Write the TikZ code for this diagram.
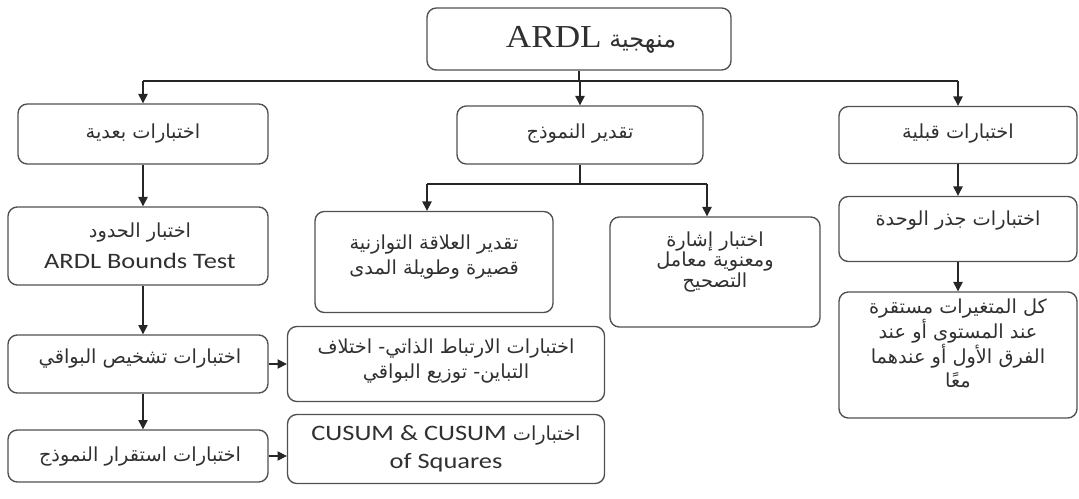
\documentclass[tikz,border=0pt]{standalone}
\usepackage{fontspec}
\usetikzlibrary{arrows.meta}
\TeXXeTstate=1
\newfontfamily\arabicfont[Script=Arabic]{DejaVu Sans}
\newfontfamily\calib[FakeStretch=1.2]{Carlito}
\newfontfamily\serifA[FakeStretch=1.1]{Liberation Serif}
\newcommand\rl[1]{\hbox{\beginR #1\endR}}
\definecolor{boxline}{HTML}{505050}
\definecolor{txt}{HTML}{303030}
\begin{document}
\begin{tikzpicture}[x=0.75pt,y=-0.75pt,
  bx/.style n args={2}{draw=boxline, line width=1pt, rounded corners=7pt,
     minimum width=#1*0.75pt, minimum height=#2*0.75pt, inner sep=0pt},
  lbl/.style={text=txt, align=center, inner sep=0pt, font=\arabicfont\fontsize{14.5}{18.5}\selectfont},
  arr/.style={draw=black!85, line width=0.9pt, -{Triangle[width=7pt,length=7pt]}},
  ln/.style={draw=black!85, line width=0.9pt}]
\useasboundingbox (0,0) rectangle (1079,499);
% boxes
\node[bx={304}{62}] (top) at (579,39) {};
\node[bx={250}{60}] (post) at (143,134) {};
\node[bx={246}{58}] (est) at (580,135) {};
\node[bx={238}{57}] (pre) at (958,135) {};
\node[bx={260}{78}] (bounds) at (138,246) {};
\node[bx={238}{101}] (eq) at (434,262) {};
\node[bx={210}{110}] (sign) at (715,272) {};
\node[bx={238}{65}] (unit) at (958,229) {};
\node[bx={238}{126}] (allv) at (958,355) {};
\node[bx={260}{58}] (resid) at (138,364) {};
\node[bx={260}{52}] (stab) at (138,456) {};
\node[bx={317}{75}] (autoc) at (446,364) {};
\node[bx={317}{69}] (cusum) at (446,449) {};
% texts
\node[text=txt, inner sep=0pt] (ttop) at (591,40) {\hbox{\arabicfont\fontsize{18}{20}\selectfont\beginR منهجية \beginL{\serifA\fontsize{24}{26}\selectfont ARDL}\endL\endR}};
\node[lbl] (tpost) at (143,134) {\rl{اختبارات بعدية}};
\node[lbl] (test) at (580,134) {\rl{تقدير النموذج}};
\node[lbl] (tpre) at (958,134) {\rl{اختبارات قبلية}};
\node[lbl, font=\fontsize{14.5}{23}\selectfont] (tbounds) at (140,246) {{\arabicfont\rl{اختبار الحدود}}\\{\calib\fontsize{16.5}{20}\selectfont ARDL Bounds Test}};
\node[lbl] (teq) at (434,257) {\rl{تقدير العلاقة التوازنية}\\\rl{قصيرة وطويلة المدى}};
\node[lbl, font=\arabicfont\fontsize{14.5}{15.5}\selectfont] (tsign) at (715,262) {\rl{اختبار إشارة}\\\rl{ومعنوية معامل}\\\rl{التصحيح}};
\node[lbl] (tunit) at (958,221) {\rl{اختبارات جذر الوحدة}};
\node[lbl, font=\arabicfont\fontsize{14.5}{17.3}\selectfont] (tallv) at (958,343) {\rl{كل المتغيرات مستقرة}\\\rl{عند المستوى أو عند}\\\rl{الفرق الأول أو عندهما}\\\rl{معًا}};
\node[lbl] (tresid) at (140,359) {\rl{اختبارات تشخيص البواقي}};
\node[lbl] (tstab) at (140,457) {\rl{اختبارات استقرار النموذج}};
\node[lbl] (tautoc) at (446,361) {\rl{اختبارات الارتباط الذاتي- اختلاف}\\\rl{التباين- توزيع البواقي}};
\node[lbl, font=\fontsize{14.5}{21}\selectfont] (tcusum) at (446,449) {{\arabicfont\hbox{\beginR اختبارات \beginL{\calib\fontsize{16.5}{20}\selectfont CUSUM \& CUSUM}\endL\endR}}\\{\calib\fontsize{16.5}{20}\selectfont of Squares}};
% bus coordinates
\coordinate (busL) at (143,81);
\coordinate (busM) at (580,81);
\coordinate (busR) at (958,81);
\coordinate (splL) at (427,184);
\coordinate (splR) at (707,184);
% connectors
\draw[ln] (top.south) -- (top.south |- busM);
\draw[ln] (busL) -- (busR);
\draw[arr] (busL) -- (post.north);
\draw[arr] (busM) -- (est.north);
\draw[arr] (busR) -- (pre.north);
\draw[ln] (est.south) -- (est.south |- splL);
\draw[ln] (splL) -- (splR);
\draw[arr] (splL) -- (splL |- eq.north);
\draw[arr] (splR) -- (splR |- sign.north);
\draw[arr] (pre.south) -- (unit.north);
\draw[arr] (unit.south) -- (allv.north);
\draw[arr] (post.south) -- (post.south |- bounds.north);
\draw[arr] (post.south |- bounds.south) -- (post.south |- resid.north);
\draw[arr] (post.south |- resid.south) -- (post.south |- stab.north);
\draw[arr] (resid.east) -- (resid.east -| autoc.west);
\draw[arr] (stab.east) -- (stab.east -| cusum.west);
\end{tikzpicture}
\end{document}
